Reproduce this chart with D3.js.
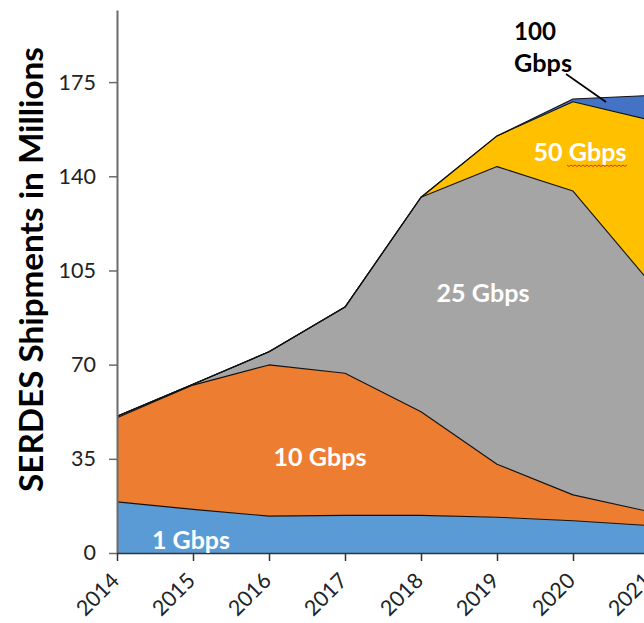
<!DOCTYPE html>
<html><head><meta charset="utf-8">
<script src="https://cdn.jsdelivr.net/npm/d3@7/dist/d3.min.js"></script>
<style>body{margin:0;background:#fff}svg{display:block}</style>
</head><body>
<script>
// ---- data ----
const years = ["2014","2015","2016","2017","2018","2019","2020","2021"];
const gbps1   = [19.0, 16.2, 13.7, 14.0, 14.0, 13.3, 12.0, 10.2];
const gbps10  = [31.3, 46.2, 56.2, 52.8, 38.5, 19.7,  9.6,  5.2];
const gbps25  = [ 0.5,  0.3,  4.9, 24.6, 79.7,110.6,112.9, 85.6];
const gbps50  = [ 0.0,  0.0,  0.0,  0.0,  0.0, 11.4, 33.2, 60.0];
const gbps100 = [ 0.0,  0.0,  0.0,  0.0,  0.0,  0.0,  1.0,  9.0];
const seriesNames = ["1 Gbps","10 Gbps","25 Gbps","50 Gbps","100 Gbps"];
const yTicks = [0, 35, 70, 105, 140, 175];
const yTitle = "SERDES Shipments in Millions";

// ---- layout ----
const W = 644, H = 623;
const colors = ["#5B9BD5","#ED7D31","#A5A5A5","#FFC000","#4472C4"];
const FONT = "Lato, Carlito, 'Open Sans', sans-serif";

const table = years.map((yr,i)=>({year:yr, "1 Gbps":gbps1[i], "10 Gbps":gbps10[i],
  "25 Gbps":gbps25[i], "50 Gbps":gbps50[i], "100 Gbps":gbps100[i]}));

const svg = d3.select("body").append("svg").attr("width",W).attr("height",H);

const x = d3.scalePoint().domain(years).range([117, 117 + 76*7]);
const y = d3.scaleLinear().domain([0, 201.8]).range([553, 10]);

const stacked = d3.stack().keys(seriesNames)(table);

const area = d3.area().x(d=>x(d.data.year)).y0(d=>y(d[0])).y1(d=>y(d[1]));
const topLine = d3.line().x(d=>x(d.data.year)).y(d=>y(d[1]));

svg.append("g").selectAll("path").data(stacked).join("path")
  .attr("d", area).attr("fill", (d,i)=>colors[i]);
svg.append("g").selectAll("path").data(stacked).join("path")
  .attr("d", topLine).attr("fill","none").attr("stroke","#111")
  .attr("stroke-width",1.1).attr("stroke-linejoin","round");

// ---- axes ----
const yAxis = svg.append("g").attr("transform","translate(117,0)")
  .call(d3.axisLeft(y).tickValues(yTicks).tickSize(8).tickSizeOuter(0).tickPadding(13));
yAxis.select(".domain").attr("stroke","#6b6b6b").attr("stroke-width",2);
yAxis.selectAll(".tick line").attr("stroke","#6b6b6b").attr("stroke-width",1.5);
yAxis.selectAll(".tick text").attr("font-family",FONT).attr("font-size",21.5)
  .attr("fill","#222");

const xAxis = svg.append("g").attr("transform","translate(0,553)")
  .call(d3.axisBottom(x).tickSize(8).tickSizeOuter(0));
xAxis.select(".domain").attr("stroke","#333").attr("stroke-width",1.5);
xAxis.selectAll(".tick line").attr("stroke","#333").attr("stroke-width",1.5);
xAxis.selectAll(".tick text").attr("font-family",FONT).attr("font-size",21.5)
  .attr("fill","#222").attr("x",0).attr("y",0).attr("dy","0")
  .attr("text-anchor","end").attr("transform","translate(3,29) rotate(-45)");

// ---- helpers ----
function fit(sel, target){
  const n = sel.node(); const fs = parseFloat(sel.attr("font-size"));
  const w = n.getComputedTextLength();
  if (w > 0) sel.attr("font-size", fs * target / w);
  return sel;
}

// axis title
const title = svg.append("text").text(yTitle)
  .attr("font-family",FONT).attr("font-weight","bold").attr("font-size",30)
  .attr("fill","#000").attr("text-anchor","middle")
  .attr("transform","translate(43,269.5) rotate(-90)");
fit(title, 445);

// in-chart labels
const labels = [
  {t:seriesNames[0], cx:191, by:549, w:78, c:"#fff"},
  {t:seriesNames[1], cx:320, by:466, w:93, c:"#fff"},
  {t:seriesNames[2], cx:483, by:302, w:93, c:"#fff"},
  {t:seriesNames[3], cx:580, by:161, w:93, c:"#fff"}
];
labels.forEach(l=>{
  const s = svg.append("text").text(l.t).attr("x",l.cx).attr("y",l.by)
    .attr("text-anchor","middle").attr("font-family",FONT).attr("font-weight","bold")
    .attr("font-size",25).attr("fill",l.c);
  fit(s, l.w);
});

// spell-check squiggle under "Gbps" of 50 Gbps
{
  const x0 = 567, x1 = 628, yy = 165, step = 2;
  let p = `M${x0},${yy}`;
  for (let xx = x0 + step, k = 0; xx <= x1; xx += step, k++) p += `L${xx},${yy + (k%2===0 ? 1.5 : 0)}`;
  svg.append("path").attr("d",p).attr("fill","none").attr("stroke","#e0302a").attr("stroke-width",1);
}

// 100 Gbps callout
const t100 = svg.append("text").text("100").attr("x",514).attr("y",40)
  .attr("font-family",FONT).attr("font-weight","bold").attr("font-size",22).attr("fill","#000");
fit(t100, 42);
const tG = svg.append("text").text("Gbps").attr("x",514).attr("y",72)
  .attr("font-family",FONT).attr("font-weight","bold").attr("font-size",22).attr("fill","#000");
fit(tG, 58);
svg.append("line").attr("x1",566).attr("y1",74).attr("x2",606).attr("y2",102)
  .attr("stroke","#000").attr("stroke-width",1.6);
</script>
</body></html>
